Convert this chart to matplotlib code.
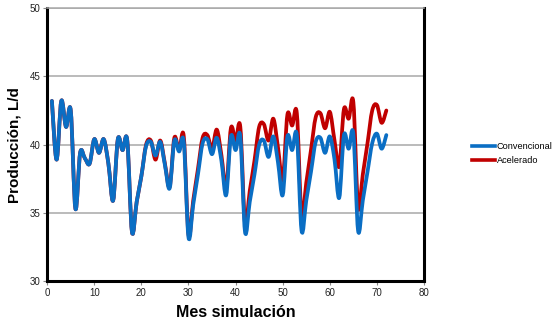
import numpy as np
import matplotlib
matplotlib.use("Agg")
import matplotlib.pyplot as plt
from matplotlib.path import Path
from matplotlib.patches import PathPatch
from matplotlib.lines import Line2D

plt.rcParams['font.family'] = ['Liberation Sans', 'DejaVu Sans']

meses = np.arange(1, 73)

convencional = [43.2, 38.9, 43.2, 41.3, 42.5, 35.3, 39.4, 39.0, 38.6, 40.4, 39.4, 40.4,
                38.6, 35.9, 40.4, 39.6, 40.3, 33.6, 35.8, 37.7, 39.9, 40.2, 39.2, 40.2,
                38.5, 36.8, 40.3, 39.5, 40.2, 33.2, 35.6, 37.8, 40.1, 40.4, 39.3, 40.5,
                38.8, 36.3, 40.6, 39.6, 40.6, 33.6, 35.8, 37.8, 40.0, 40.3, 39.1, 40.6,
                38.7, 36.3, 40.6, 39.6, 40.7, 33.7, 35.9, 38.0, 40.2, 40.5, 39.4, 40.6,
                38.9, 36.1, 40.7, 39.7, 40.8, 33.7, 35.9, 38.0, 40.1, 40.8, 39.7, 40.7]

acelerado = [43.2, 38.9, 43.2, 41.3, 42.5, 35.3, 39.4, 39.0, 38.6, 40.4, 39.4, 40.4,
             38.6, 35.9, 40.4, 39.6, 40.3, 33.6, 35.8, 37.7, 40.0, 40.3, 38.9, 40.3,
             38.6, 36.9, 40.5, 39.6, 40.6, 33.4, 35.9, 38.2, 40.5, 40.7, 39.7, 41.1,
             39.2, 36.8, 41.2, 40.3, 41.3, 34.2, 36.6, 38.8, 41.3, 41.5, 40.3, 41.9,
             39.8, 37.4, 42.2, 41.4, 42.3, 34.8, 37.2, 39.6, 42.0, 42.3, 41.2, 42.4,
             40.3, 38.4, 42.6, 41.9, 43.1, 35.4, 37.8, 40.1, 42.5, 42.9, 41.6, 42.5]

AZUL = '#0a6ec4'
ROJO = '#c00000'


def curva_suave(x, y):
    # Catmull-Rom pasado a bezier cubica (linea suavizada)
    pts = np.column_stack([np.asarray(x, float), np.asarray(y, float)])
    ext = np.vstack([pts[0], pts, pts[-1]])
    verts = [pts[0]]
    codes = [Path.MOVETO]
    for i in range(len(pts) - 1):
        p0, p1, p2, p3 = ext[i], ext[i + 1], ext[i + 2], ext[i + 3]
        verts += [p1 + (p2 - p0) / 6, p2 - (p3 - p1) / 6, p2]
        codes += [Path.CURVE4] * 3
    return Path(verts, codes)


fig = plt.figure(figsize=(5.55, 3.25), dpi=100)
ax = fig.add_axes([0.085, 0.135, 0.679, 0.84])

ax.add_patch(PathPatch(curva_suave(meses, acelerado), fill=False,
                       edgecolor=ROJO, lw=2.7, capstyle='round', joinstyle='round', zorder=3))
ax.add_patch(PathPatch(curva_suave(meses, convencional), fill=False,
                       edgecolor=AZUL, lw=2.7, capstyle='round', joinstyle='round', zorder=4))

ax.set_xlim(0, 80)
ax.set_ylim(30, 50)
ax.set_xticks(np.arange(0, 81, 10))
ax.set_yticks(np.arange(30, 51, 5))
ax.yaxis.grid(True, color='#a8a8a8', lw=1.1)
ax.set_axisbelow(True)

for lado in ['left', 'bottom', 'right']:
    ax.spines[lado].set_linewidth(2.2)
    ax.spines[lado].set_color('black')
ax.spines['top'].set_color('#a8a8a8')
ax.spines['top'].set_linewidth(1.1)

ax.tick_params(axis='both', labelsize=7, length=3, width=0.8, direction='out', pad=2,
               colors='#888888', labelcolor='#222222')

ax.set_xlabel('Mes simulación', fontsize=11.5, fontweight='bold', labelpad=5)
ax.set_ylabel('Producción, L/d', fontsize=11, fontweight='bold', labelpad=6)

manejadores = [Line2D([], [], color=AZUL, lw=2.6), Line2D([], [], color=ROJO, lw=2.6)]
fig.legend(manejadores, ['Convencional', 'Acelerado'], loc='center left',
           bbox_to_anchor=(0.850, 0.527), frameon=False, fontsize=6.6,
           handlelength=2.5, handletextpad=0.25, labelspacing=0.5,
           borderpad=0, borderaxespad=0)

fig.savefig('out.png', dpi=100)
